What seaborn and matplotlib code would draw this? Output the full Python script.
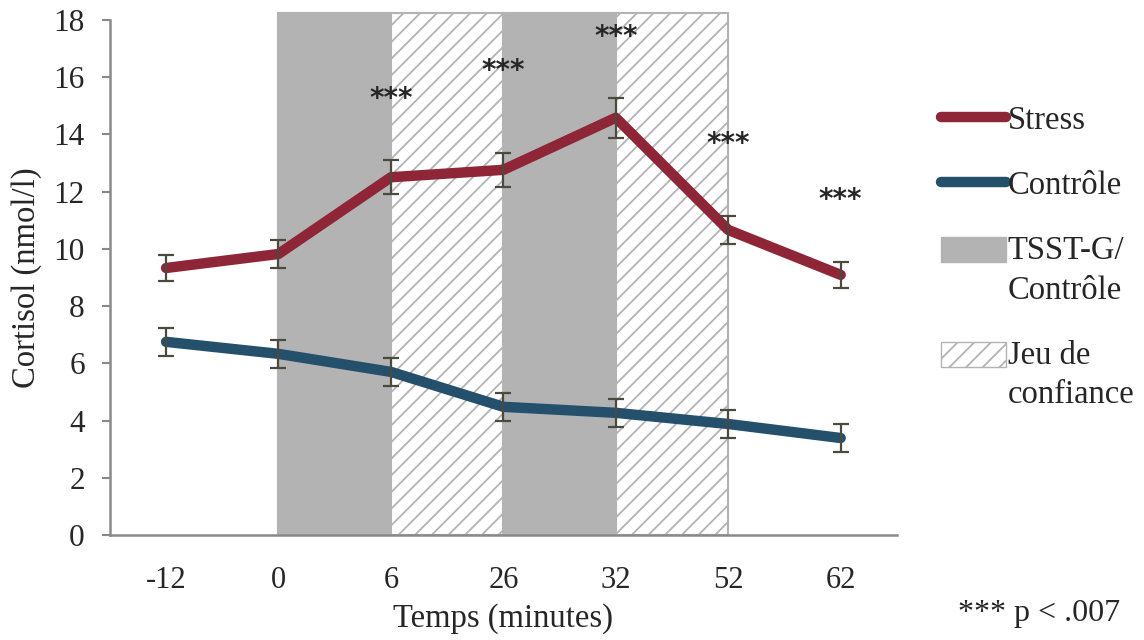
import numpy as np
import pandas as pd
import matplotlib
matplotlib.use("Agg")
import matplotlib.pyplot as plt
import seaborn as sns
from matplotlib.lines import Line2D
from matplotlib.patches import Patch, Rectangle
from matplotlib.legend_handler import HandlerPatch

# données
temps = ['-12', '0', '6', '26', '32', '52', '62']
stress = [9.33, 9.82, 12.5, 12.76, 14.58, 10.66, 9.09]
stress_err = [0.45, 0.5, 0.6, 0.6, 0.7, 0.5, 0.45]
controle = [6.75, 6.33, 5.7, 4.48, 4.27, 3.88, 3.39]
controle_err = [0.5, 0.5, 0.5, 0.5, 0.5, 0.5, 0.5]
etoiles = [None, None, 15.25, 16.2, 17.4, 13.65, 11.7]

# phases : (début, fin) en index de catégorie
tsst = [(1, 2), (3, 4)]
jeu = [(2, 3), (4, 5)]
haut_phase = 18.25

rouge = '#8e2637'
bleu = '#24506b'
gris = '#b3b3b3'

sns.set_style('white')
plt.rcParams['font.family'] = ['Liberation Serif', 'DejaVu Serif']
plt.rcParams['hatch.linewidth'] = 1.3
plt.rcParams['hatch.color'] = gris

df = pd.DataFrame({
    'pos': list(range(len(temps))) * 2,
    'cortisol': stress + controle,
    'groupe': ['Stress'] * len(temps) + ['Contrôle'] * len(temps),
})

fig = plt.figure(figsize=(11.44, 6.4), dpi=100)
ax = fig.add_axes([0.096, 0.164, 0.688, 0.805])

# zones grises / hachurées
for a, b in tsst:
    ax.bar(a, haut_phase, width=b - a, align='edge', color=gris, edgecolor=gris,
           linewidth=1.5, zorder=0, clip_on=False)
for a, b in jeu:
    ax.bar(a, haut_phase, width=b - a, align='edge', color='white', edgecolor=gris,
           hatch='//', linewidth=1.5, zorder=0, clip_on=False)

sns.lineplot(data=df, x='pos', y='cortisol', hue='groupe', palette={'Stress': rouge, 'Contrôle': bleu},
             linewidth=7.5, legend=False, ax=ax, zorder=3, solid_capstyle='round', solid_joinstyle='round')

pos = np.arange(len(temps))
ax.errorbar(pos, stress, yerr=stress_err, fmt='none', ecolor='#4b4a3e', elinewidth=1.6, capsize=6, capthick=1.6, zorder=4)
ax.errorbar(pos, controle, yerr=controle_err, fmt='none', ecolor='#4b4a3e', elinewidth=1.6, capsize=6, capthick=1.6, zorder=4)

for i, y in enumerate(etoiles):
    if y is not None:
        ax.text(i, y, '***', ha='center', va='center', fontsize=20, fontweight='bold',
                family='DejaVu Sans', zorder=5)

ax.set_xlim(-0.5, len(temps) - 0.5)
ax.set_ylim(0, 18)
ax.set_yticks(range(0, 19, 2))
ax.set_xticks(pos, labels=temps)
ax.tick_params(axis='y', length=6, width=1.5, color='#888888', labelsize=22.5, pad=12, left=True)
ax.tick_params(axis='x', length=0, labelsize=22, pad=22)
ax.set_xlabel('Temps (minutes)', fontsize=23.5, labelpad=6)
ax.set_ylabel('Cortisol (nmol/l)', fontsize=23.5, labelpad=8)
sns.despine(ax=ax)
for s in ['left', 'bottom']:
    ax.spines[s].set_color('#8a8a8a')
    ax.spines[s].set_linewidth(1.8)


# rectangle de légende aligné sur la première ligne du texte
def rect_haut(legend, orig_handle, xdescent, ydescent, width, height, fontsize):
    return Rectangle((-xdescent, -ydescent + 0.66 * fontsize), width, height)


handles = [
    Line2D([], [], color=rouge, linewidth=7.5, solid_capstyle='round'),
    Line2D([], [], color=bleu, linewidth=7.5, solid_capstyle='round'),
    Patch(facecolor=gris, edgecolor=gris),
    Patch(facecolor='white', edgecolor=gris, hatch='//'),
]
labels = ['Stress', 'Contrôle', 'TSST-G/\nContrôle', 'Jeu de\nconfiance']
leg = fig.legend(handles, labels, loc='upper left', bbox_to_anchor=(0.811, 0.856), frameon=False,
                 borderaxespad=0, fontsize=23.5, handlelength=2.0, handleheight=0.8,
                 handletextpad=0.05, labelspacing=1.05,
                 handler_map={Patch: HandlerPatch(patch_func=rect_haut)})
for t in leg.get_texts():
    t.set_linespacing(1.4)

fig.text(0.837, 0.03, '*** p < .007', fontsize=23)

fig.savefig('out.png', dpi=100)
